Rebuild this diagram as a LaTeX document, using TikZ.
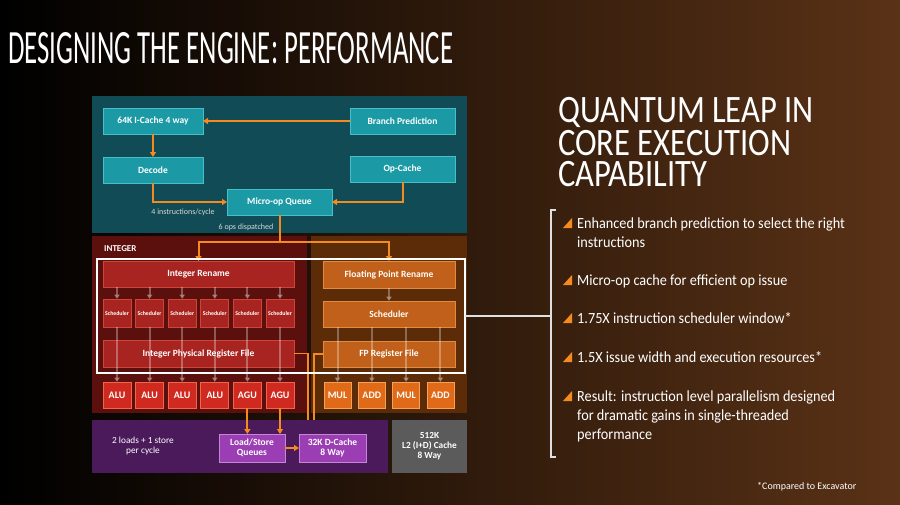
\documentclass[tikz,border=0pt]{standalone}
\usepackage{fontspec}
\setmainfont{Carlito}
\usepackage{graphicx}
\usetikzlibrary{arrows.meta,positioning,calc}

\definecolor{bgmid}{HTML}{1C0E05}
\definecolor{bgbrown}{HTML}{5A3216}
\definecolor{tealbg}{HTML}{114B55}
\definecolor{tealbx}{HTML}{1B9AA5}
\definecolor{tealln}{HTML}{48BFC6}
\definecolor{intbg}{HTML}{5C100E}
\definecolor{intbx}{HTML}{A82420}
\definecolor{intln}{HTML}{CC4538}
\definecolor{alubx}{HTML}{D02A20}
\definecolor{aluln}{HTML}{F0654C}
\definecolor{fpbg}{HTML}{5C2C09}
\definecolor{fpbx}{HTML}{C0601A}
\definecolor{fpln}{HTML}{E08C3C}
\definecolor{fpu}{HTML}{E06A17}
\definecolor{fpuln}{HTML}{F6A256}
\definecolor{lsbg}{HTML}{4A1A5A}
\definecolor{lsbx}{HTML}{9B3DB3}
\definecolor{lsln}{HTML}{C684D8}
\definecolor{l2bg}{HTML}{5B5B5B}
\definecolor{amdorange}{HTML}{F58A1F}

\newcommand{\bultext}[1]{\scalebox{0.92}[1]{\begin{tabular}[t]{@{}l@{}}#1\end{tabular}}}

\begin{document}
\begin{tikzpicture}[x=1pt, y=-1pt,
  font=\fontsize{8}{9.5}\selectfont,
  blk/.style={anchor=north west, inner sep=0pt, outer sep=0pt},
  bx/.style={anchor=north west, draw, line width=0.8pt, inner sep=0pt, outer sep=0pt,
    align=center, text=white, font=\bfseries\fontsize{9.5}{10.5}\selectfont},
  tb/.style={bx, fill=tealbx, draw=tealln, minimum height=26pt},
  rb/.style={bx, fill=intbx, draw=intln, minimum width=191pt, minimum height=26pt},
  sb/.style={bx, fill=intbx, draw=intln, minimum width=28pt, minimum height=28pt,
    font=\bfseries\fontsize{5.8}{6.5}\selectfont},
  ub/.style={bx, fill=alubx, draw=aluln, minimum width=28pt, minimum height=26pt,
    font=\bfseries\fontsize{10}{11}\selectfont},
  fb/.style={bx, fill=fpbx, draw=fpln, minimum width=132pt, minimum height=26pt},
  fu/.style={bx, fill=fpu, draw=fpuln, minimum width=27pt, minimum height=26pt,
    font=\bfseries\fontsize{10}{11}\selectfont},
  pb/.style={bx, fill=lsbx, draw=lsln, minimum height=28pt},
  lbl/.style={text=white!85!black, font=\fontsize{8}{9}\selectfont},
  bt/.style={anchor=base west, inner sep=0pt, text=white, font=\fontsize{15.5}{19}\selectfont},
  hd/.style={anchor=base west, inner sep=0pt, text=white, font=\fontsize{38.8}{28}\selectfont},
  oa/.style={-{Triangle[length=5pt,width=6pt]}, line width=2pt, draw=amdorange},
  ol/.style={line width=1.6pt, draw=amdorange},
  ga/.style={-{Triangle[length=4.5pt,width=5.5pt]}, line width=2pt, draw=white, opacity=0.3},
  wl/.style={draw=white!88!black, line width=1.3pt}
]
\fill[black] (0,0) rectangle (900,504);
\shade[left color=black, middle color=bgmid, right color=bgbrown] (0,0) rectangle (900,504);
\useasboundingbox (0,0) rectangle (900,504);

\node[anchor=north west, inner sep=0pt, text=white] (ttl) at (8,32)
  {\resizebox{445pt}{31pt}{\fontsize{48}{48}\selectfont DESIGNING THE ENGINE: PERFORMANCE}};

\node[blk, fill=tealbg, minimum width=375pt, minimum height=137pt] (fe) at (92,96) {};
\node[blk, fill=intbg, minimum width=215pt, minimum height=177pt] (ib) at (92,236) {};
\node[blk, fill=fpbg, minimum width=156pt, minimum height=177pt] (fpb) at (311,236) {};
\node[blk, fill=lsbg, minimum width=296pt, minimum height=53pt] (ls) at (92,420) {};

\node[tb, minimum width=100pt] (ic) at (103,108) {64K I-Cache 4 way};
\node[tb, minimum width=105pt] (bp) at (350,108) {Branch Prediction};
\node[tb, minimum width=100pt, below=23pt of ic] (dec) {Decode};
\node[tb, minimum width=105pt] (oc) at (350,156) {Op-Cache};
\node[tb, minimum width=105pt] (mq) at (227,189) {Micro-op Queue};
\node[lbl] (ipc) at (183,212) {4 instructions/cycle};
\node[lbl] (dsp) at (246,227) {6 ops dispatched};
\draw[oa] (bp) -- (ic);
\draw[oa] (ic) -- (dec);
\draw[oa] (dec.south) |- (mq.west);
\draw[oa] (oc.south) |- (mq.east);

\node[anchor=west, inner sep=0pt, text=white, font=\bfseries\fontsize{9}{10}\selectfont] (ibl) at (104,249) {INTEGER};
\node[rb] (ir) at (103,261) {Integer Rename};
\node[sb] (s1) at (103,299) {Scheduler};
\node[sb, right=4.6pt of s1] (s2) {Scheduler};
\node[sb, right=4.6pt of s2] (s3) {Scheduler};
\node[sb, right=4.6pt of s3] (s4) {Scheduler};
\node[sb, right=4.6pt of s4] (s5) {Scheduler};
\node[sb, right=4.6pt of s5] (s6) {Scheduler};
\node[rb, minimum height=27pt] (irf) at (103,340) {Integer Physical Register File};
\node[ub] (a1) at (103,382) {ALU};
\node[ub, right=4.6pt of a1] (a2) {ALU};
\node[ub, right=4.6pt of a2] (a3) {ALU};
\node[ub, right=4.6pt of a3] (a4) {ALU};
\node[ub, right=4.6pt of a4] (a5) {AGU};
\node[ub, right=4.6pt of a5] (a6) {AGU};
\foreach \i in {1,...,6} {
  \draw[ga] (ir.south -| s\i) -- (s\i);
  \draw[ga] (s\i) -- (a\i);
}

\node[fb, minimum height=27pt] (fr) at (323,261) {Floating Point Rename};
\node[fb] (fs) at (323,301) {Scheduler};
\node[fb] (frf) at (323,341) {FP Register File};
\node[fu] (m1) at (324,382) {MUL};
\node[fu, right=7.3pt of m1] (d1) {ADD};
\node[fu, right=7.3pt of d1] (m2) {MUL};
\node[fu, right=7.3pt of m2] (d2) {ADD};
\draw[ga] (fr) -- (fs);
\foreach \u in {m1,d1,m2,d2}
  \draw[ga] (fs.south -| \u) -- (\u);

\coordinate (sp) at ($(mq.south)+(0,27)$);
\draw[oa] (mq.south) -- (sp) -| (ir.north);
\draw[oa] (sp) -| (fr.north);

\node[text=white, align=center, font=\fontsize{9.3}{10.5}\selectfont] (ld) at (143,446) {2 loads + 1 store\\per cycle};
\node[pb, minimum width=66pt] (lq) at (219,434) {Load/Store\\Queues};
\node[pb, minimum width=67pt, right=14pt of lq] (dc) {32K D-Cache\\8 Way};
\node[blk, fill=l2bg, minimum width=75pt, minimum height=53pt, align=center, text=white,
  font=\bfseries\fontsize{9.3}{10}\selectfont] (l2) at (392,420) {512K\\L2 (I+D) Cache\\8 Way};
\draw[oa] (lq) -- (dc);
\draw[oa] (a5) -- (a5 |- lq.north);
\draw[oa] (a6) -- (a6 |- lq.north);
\coordinate (ic1) at (308,420);
\coordinate (fc1) at (314,420);
\draw[ol] (irf.east) -| (ic1);
\draw[ol] (frf.west) -| (fc1);

\node[blk, draw=white, line width=1.8pt, minimum width=368pt, minimum height=114pt] (hl) at (97,259) {};
\coordinate (bk) at (551,316);
\draw[wl] (hl.east) -- (bk);
\draw[wl] (556,210) -- (551,210) -- (551,457) -- (556,457);

\node[hd] (hq) at (558,122) {\scalebox{0.84}[1]{\begin{tabular}[t]{@{}l@{}}QUANTUM LEAP IN\\[-0.5pt]CORE EXECUTION\\[-2.5pt]CAPABILITY\end{tabular}}};

\foreach \b in {228,285,323,362,401}
  \fill[amdorange] (563,\b) -- (572,\b) -- (572,\b-10) -- cycle;
\node[bt] (b1) at (577,228) {\bultext{Enhanced branch prediction to select the right\\instructions}};
\node[bt] (b2) at (577,285) {\bultext{Micro-op cache for efficient op issue}};
\node[bt] (b3) at (577,323) {\bultext{1.75X instruction scheduler window*}};
\node[bt] (b4) at (577,362) {\bultext{1.5X issue width and execution resources*}};
\node[bt] (b5) at (577,401) {\bultext{Result: instruction level parallelism designed\\for dramatic gains in single-threaded\\performance}};

\node[anchor=west, inner sep=0pt, text=white, font=\fontsize{10}{12}\selectfont] (fn) at (757,487) {*Compared to Excavator};
\end{tikzpicture}
\end{document}
